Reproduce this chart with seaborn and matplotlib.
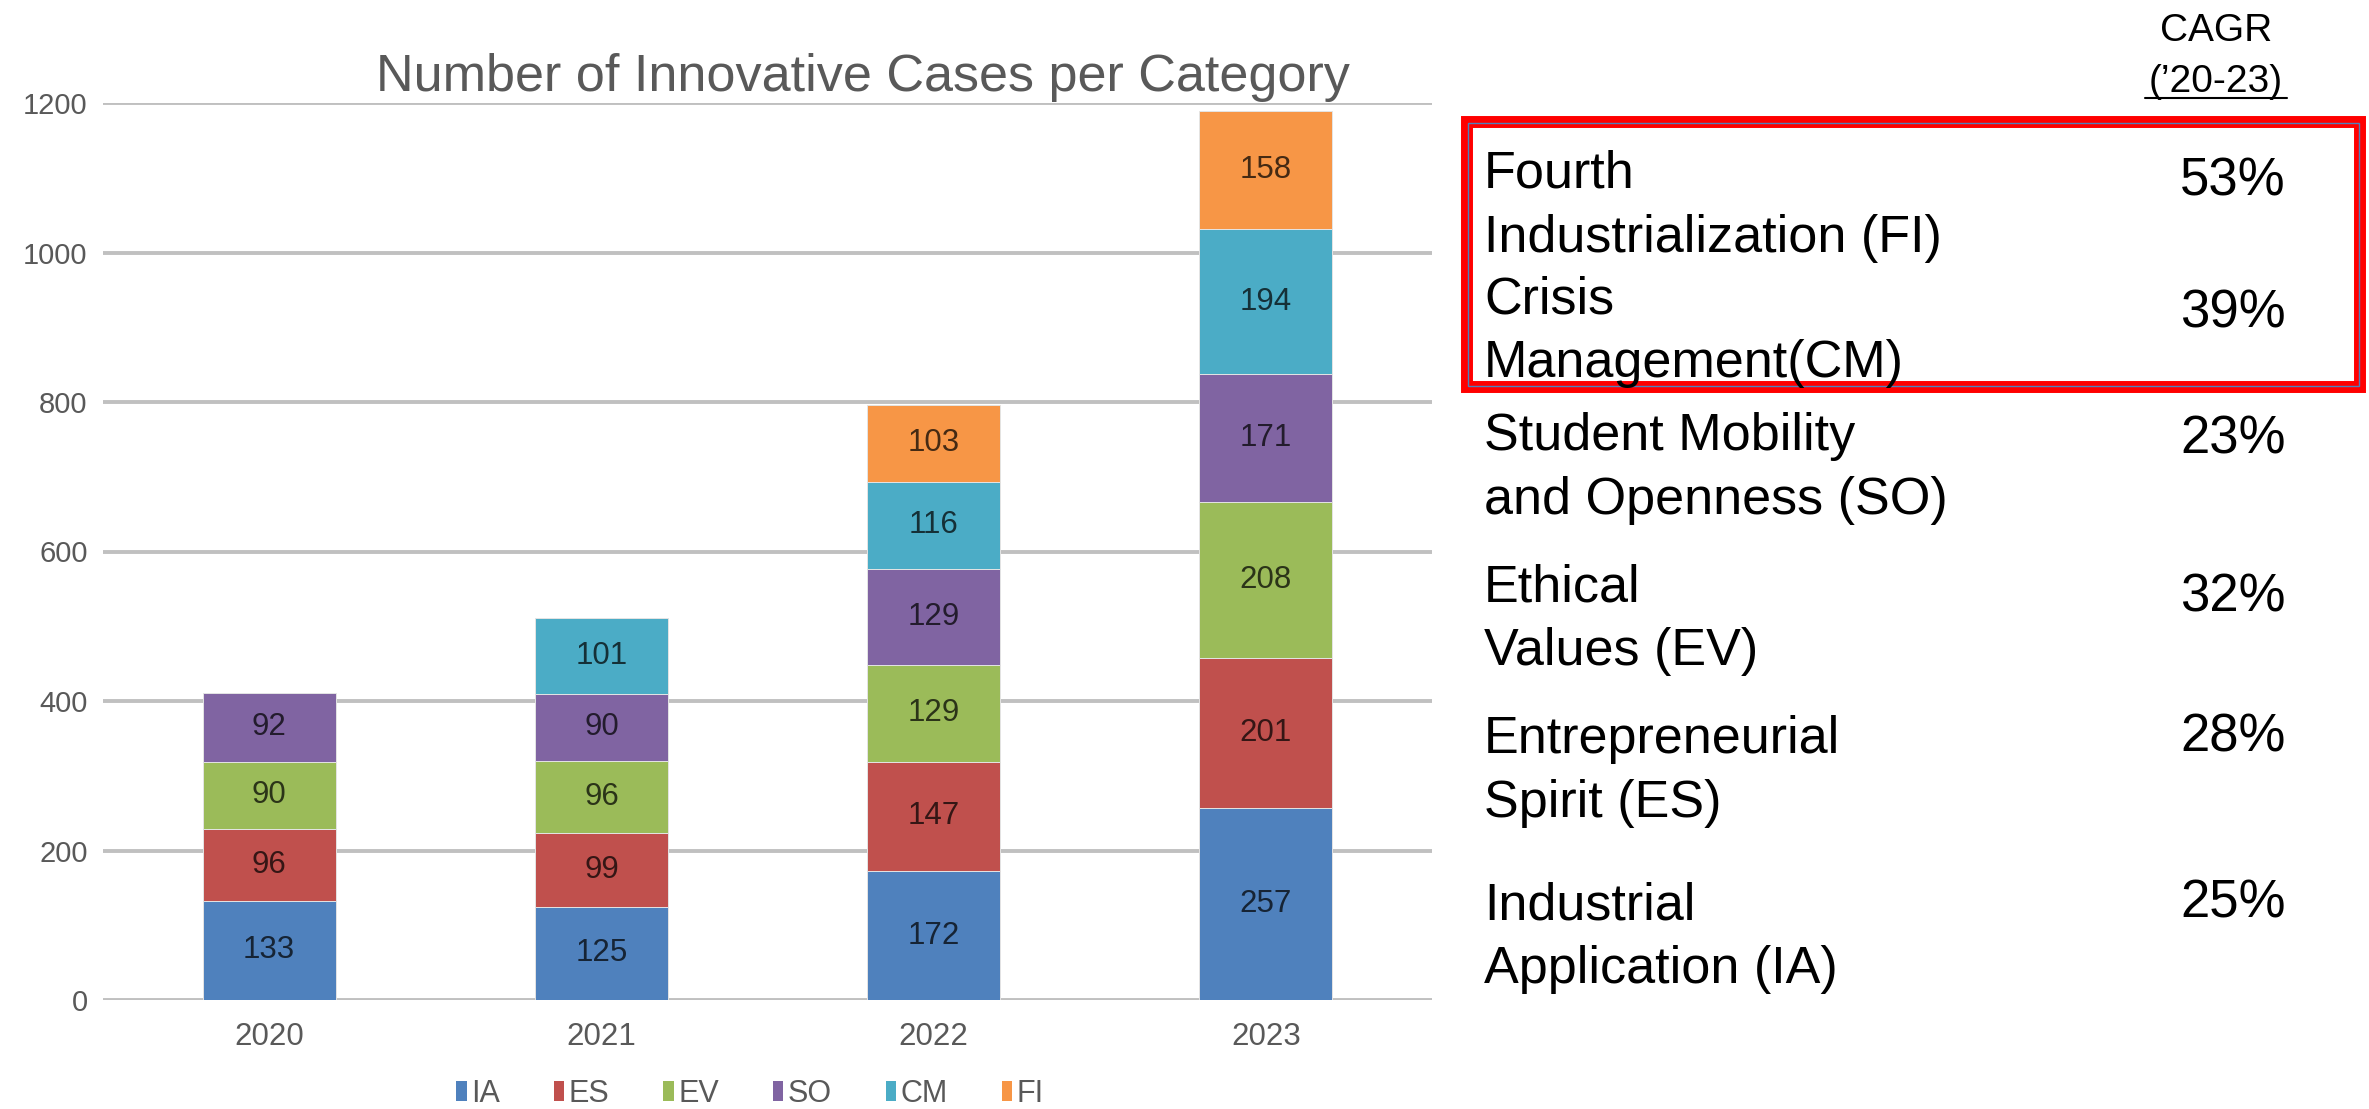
import matplotlib
matplotlib.use("Agg")
import matplotlib.pyplot as plt
import seaborn as sns
import numpy as np
from matplotlib.patches import Rectangle, Patch

# data
years = ["2020", "2021", "2022", "2023"]
categories = ["IA", "ES", "EV", "SO", "CM", "FI"]
ia = [133, 125, 172, 257]
es = [96, 99, 147, 201]
ev = [90, 96, 129, 208]
so = [92, 90, 129, 171]
cm = [0, 101, 116, 194]
fi = [0, 0, 103, 158]
colors = ["#4F81BD", "#C0504D", "#9BBB59", "#8064A2", "#4BACC6", "#F79646"]

cagr_labels = [
    ["Fourth", "Industrialization (FI)"],
    ["Crisis", "Management(CM)"],
    ["Student Mobility", "and Openness (SO)"],
    ["Ethical", "Values (EV)"],
    ["Entrepreneurial", "Spirit (ES)"],
    ["Industrial", "Application (IA)"],
]
cagr_values = ["53%", "39%", "23%", "32%", "28%", "25%"]

W, H = 2369, 1109

sns.set_theme(style="white")
plt.rcParams["font.family"] = ["Liberation Sans", "DejaVu Sans"]

fig = plt.figure(figsize=(W / 100, H / 100), dpi=100)
ax = fig.add_axes([103 / W, 1 - 1000 / H, (1432 - 103) / W, (1000 - 103) / H])

series = [ia, es, ev, so, cm, fi]
bottom = np.zeros(len(years))
for name, vals, col in zip(categories, series, colors):
    vals = np.array(vals)
    mask = vals > 0
    sns.barplot(
        x=np.array(years)[mask],
        y=vals[mask],
        bottom=bottom[mask],
        order=years,
        color=col,
        saturation=1,
        width=0.4,
        errorbar=None,
        edgecolor="#E4E4E4",
        linewidth=0.7,
        ax=ax,
    )
    for i in np.where(mask)[0]:
        ax.text(i, bottom[i] + vals[i] / 2, str(vals[i]), ha="center", va="center",
                fontsize=22.5, color="black", alpha=0.72)
    bottom += vals

ax.set_xlim(-0.5, 3.5)
ax.set_ylim(0, 1200)
ax.set_yticks(range(0, 1201, 200))
ax.set_xlabel("")
ax.set_ylabel("")
ax.yaxis.grid(True, color="#C0C0C0", linewidth=2.8)
ax.set_axisbelow(True)
for s in ax.spines.values():
    s.set_visible(False)
ax.tick_params(axis="y", length=0, labelsize=21, labelcolor="#595959", pad=11)
ax.tick_params(axis="x", length=0, labelsize=22.5, labelcolor="#595959", pad=16)

handles = [Patch(facecolor=c, edgecolor="none") for c in colors]
leg = fig.legend(handles, categories, loc="center", bbox_to_anchor=(750 / W, 1 - 1094 / H),
                 ncol=6, frameon=False, fontsize=22, handlelength=0.35, handleheight=0.65,
                 handletextpad=0.15, columnspacing=1.75)
for t in leg.get_texts():
    t.set_color("#595959")

# overlay in pixel coordinates for title and CAGR table
ov = fig.add_axes([0, 0, 1, 1])
ov.set_xlim(0, W)
ov.set_ylim(H, 0)
ov.axis("off")

ov.text(863, 91, "Number of Innovative Cases per Category", ha="center", va="baseline",
        fontsize=37.5, color="#595959")

ov.text(2216, 41, "CAGR", ha="center", va="baseline", fontsize=28, color="black")
ov.text(2216, 92, "(\u201920-23)", ha="center", va="baseline", fontsize=28, color="black")
ov.plot([2145, 2287], [97.5, 97.5], color="black", linewidth=1.5)

row_base = [188, 313, 450, 601, 753, 919]
pct_base = [196, 327, 454, 612, 752, 917]
for lines, yb, val, yp in zip(cagr_labels, row_base, cagr_values, pct_base):
    for k, line in enumerate(lines):
        ov.text(1484, yb + 64 * k, line, ha="left", va="baseline", fontsize=37.5, color="black")
    ov.text(2286, yp, val, ha="right", va="baseline", fontsize=38, color="black")

ov.add_patch(Rectangle((1467, 122), 2360 - 1467, 387 - 122, fill=False,
                       edgecolor="#FF0000", linewidth=8.6))
ov.add_patch(Rectangle((1468, 123), 2359 - 1468, 386 - 123, fill=False,
                       edgecolor="#4F81BD", linewidth=1.0))

fig.savefig("out.png", dpi=100)
